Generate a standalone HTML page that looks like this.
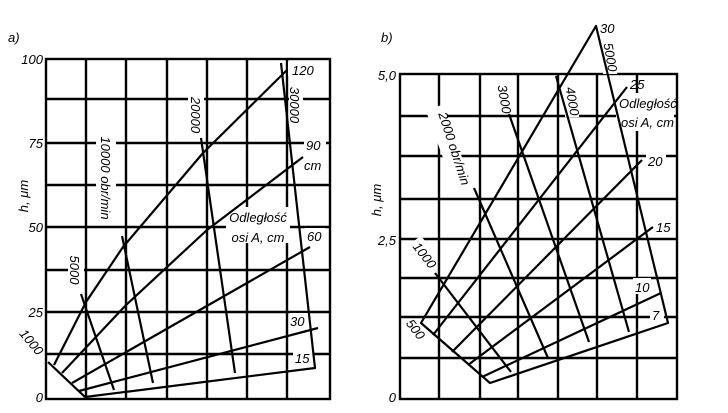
<!DOCTYPE html>
<html><head><style>body{margin:0;background:#fff}svg{display:block}text{font-family:"Liberation Sans",sans-serif;font-style:italic;font-size:13px;fill:#000}</style></head><body>
<svg width="728" height="413" viewBox="0 0 728 413">
<g stroke="#000" stroke-width="2.4" fill="none">
<rect x="46" y="59" width="284" height="340"/>
<path d="M86 59V399M126 59V399M167 59V399M207 59V399M247 59V399M287 59V399M46 99H330M46 143H330M46 185H330M46 227H330M46 270H330M46 312H330M46 354H330"/>
<rect x="400" y="74" width="277" height="325"/>
<path d="M439 74V399M480 74V399M518 74V399M558 74V399M597 74V399M637 74V399M400 116H677M400 156H677M400 199H677M400 239H677M400 278H677M400 317H677M400 358H677"/>
</g>
<g fill="#fff">
<rect x="96" y="125" width="20" height="100"/><rect x="68" y="255" width="16" height="30"/>
<rect x="188" y="92" width="16" height="44"/><rect x="289" y="84" width="14" height="44"/>
<rect x="226" y="207" width="64" height="36"/><rect x="288" y="62" width="26" height="14"/>
<rect x="304" y="137" width="22" height="34"/><rect x="305" y="228" width="20" height="14"/>
<rect x="290" y="313" width="20" height="14"/><rect x="293" y="349" width="20" height="14"/>
<rect x="603" y="38" width="14" height="36"/><rect x="496" y="80" width="16" height="30"/>
<rect x="565" y="87" width="14" height="30"/><rect x="616" y="93" width="58" height="38"/>
<rect x="440" y="105" width="18" height="86" transform="rotate(-20 449 148)"/>
<rect x="646" y="152" width="20" height="16"/><rect x="655" y="218" width="18" height="16"/>
<rect x="633" y="278" width="18" height="16"/><rect x="650" y="306" width="14" height="16"/>
<rect x="410" y="242" width="26" height="16" transform="rotate(52 422 250)"/>
</g>
<g stroke="#000" stroke-width="2.2" fill="none" stroke-linejoin="round">
<path d="M48 362L85 397L315 368L281 63"/>
<path d="M54 365L86 302L123 247L203 153L287 70"/>
<path d="M62 373L126 305L207 230L303 157"/>
<path d="M72 383L310 247"/>
<path d="M79 391L318 328"/>
<path d="M81 294L114 390M122 236L153 383M201 138L235 373"/>
<path d="M421 323L490 383L668 323L596 26Z"/>
<path d="M433 335L627 87M452 352L642 160M468 365L653 227M482 377L661 293"/>
<path d="M435 273L511 372M474 188L548 358M509 114L589 342M556 76L629 332"/>
</g>
<text x="8" y="42" font-size="20">a)</text>
<text x="43" y="64" text-anchor="end">100</text>
<text x="43" y="148" text-anchor="end">75</text>
<text x="43" y="232" text-anchor="end">50</text>
<text x="43" y="317" text-anchor="end">25</text>
<text x="43" y="402" text-anchor="end">0</text>
<text transform="translate(28 196) rotate(-90)" text-anchor="middle">h, μm</text>
<text transform="translate(28 345) rotate(50)" text-anchor="middle">1000</text>
<text transform="translate(101 178) rotate(90)" text-anchor="middle">10000 obr/min</text>
<text transform="translate(70 270) rotate(90)" text-anchor="middle">5000</text>
<text transform="translate(191 115) rotate(90)" text-anchor="middle">20000</text>
<text transform="translate(290 105) rotate(90)" text-anchor="middle">30000</text>
<text x="292" y="75">120</text>
<text x="306" y="150">90</text>
<text x="304" y="170">cm</text>
<text x="258" y="222" text-anchor="middle">Odległość</text>
<text x="258" y="242" text-anchor="middle">osi A, cm</text>
<text x="307" y="241">60</text>
<text x="290" y="326">30</text>
<text x="295" y="363">15</text>
<text x="381" y="42" font-size="20">b)</text>
<text x="396" y="80" text-anchor="end">5,0</text>
<text x="396" y="245" text-anchor="end">2,5</text>
<text x="396" y="402" text-anchor="end">0</text>
<text transform="translate(381 200) rotate(-90)" text-anchor="middle">h, μm</text>
<text x="600" y="33">30</text>
<text transform="translate(606 58) rotate(80)" text-anchor="middle">5000</text>
<text x="630" y="89">25</text>
<text x="619" y="108">Odległość</text>
<text x="621" y="127">osi A, cm</text>
<text transform="translate(500 100) rotate(80)" text-anchor="middle">3000</text>
<text transform="translate(568 102) rotate(80)" text-anchor="middle">4000</text>
<text transform="translate(450 150) rotate(72)" text-anchor="middle">2000 obr/min</text>
<text x="648" y="166">20</text>
<text x="656" y="232">15</text>
<text x="635" y="292">10</text>
<text x="652" y="320">7</text>
<text transform="translate(421 258) rotate(52)" text-anchor="middle">1000</text>
<text transform="translate(412 332) rotate(52)" text-anchor="middle">500</text>
</svg>
</body></html>
